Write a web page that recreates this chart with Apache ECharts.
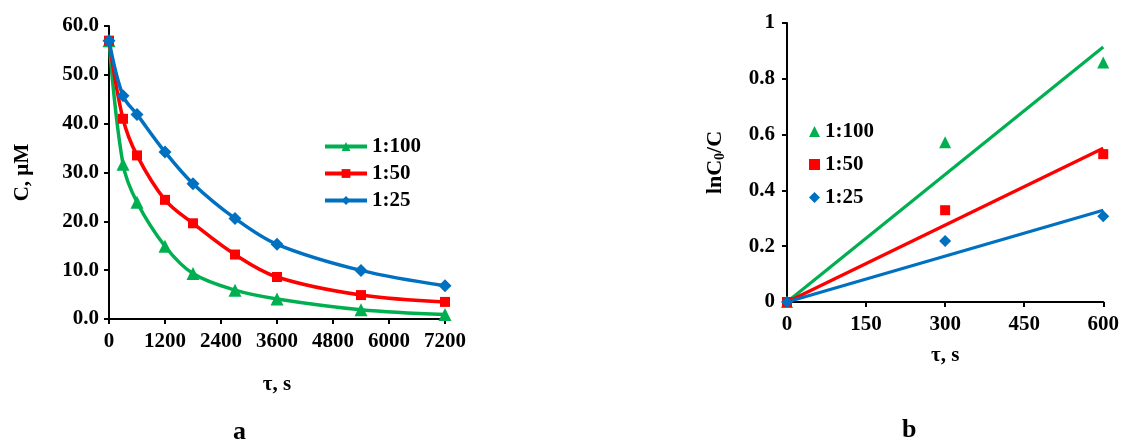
<!DOCTYPE html>
<html><head><meta charset="utf-8">
<script src="https://cdn.jsdelivr.net/npm/echarts@6/dist/echarts.min.js"></script>
<style>html,body{margin:0;padding:0;background:#fff}#c{width:1122px;height:443px}</style>
</head><body><div id="c"></div>
<script>
const timeA = [0, 300, 600, 1200, 1800, 2700, 3600, 5400, 7200];
const conc100 = [57.0, 31.7, 23.9, 14.9, 9.3, 5.9, 4.1, 1.9, 0.9];
const conc50 = [57.0, 41.0, 33.5, 24.4, 19.6, 13.2, 8.6, 4.9, 3.5];
const conc25 = [57.0, 45.7, 41.9, 34.2, 27.7, 20.6, 15.3, 9.95, 6.8];
const timeB = [0, 300, 600];
const ln100 = [0, 0.573, 0.858];
const ln50 = [0, 0.329, 0.530];
const ln25 = [0, 0.219, 0.307];
const fitTime = [0, 600];
const fit100 = [0, 0.914];
const fit50 = [0, 0.551];
const fit25 = [0, 0.329];
const names = ['1:100', '1:50', '1:25'];
const colors = ['#00B050', '#FF0000', '#0070C0'];
const symbols = ['triangle', 'rect', 'diamond'];

const FONT = 'Liberation Serif';
const FS = 21;
const pair = (xs, ys) => xs.map((x, i) => [x, ys[i]]);
const axisCommon = {
  axisLine: {lineStyle: {color: '#000', width: 2}},
  axisTick: {show: true, inside: false, length: 5, lineStyle: {color: '#000', width: 2}},
  splitLine: {show: false},
  axisLabel: {color: '#000', fontFamily: FONT, fontWeight: 'bold', fontSize: FS},
  nameTextStyle: {color: '#000', fontFamily: FONT, fontWeight: 'bold', fontSize: FS}
};
const chart = echarts.init(document.getElementById('c'));
const concSets = [conc100, conc50, conc25];
const lnSets = [ln100, ln50, ln25];
const fitSets = [fit100, fit50, fit25];
const series = [];
concSets.forEach((d, i) => series.push({
  type: 'line', name: names[i], xAxisIndex: 0, yAxisIndex: 0, data: pair(timeA, d),
  smooth: 0.35, symbol: symbols[i], symbolSize: i === 1 ? 10 : 13, showSymbol: true,
  lineStyle: {color: colors[i], width: 3.5}, itemStyle: {color: colors[i], opacity: 1}, z: 3 + i
}));
lnSets.forEach((d, i) => series.push({
  type: 'scatter', name: names[i] + ' ', xAxisIndex: 1, yAxisIndex: 1, data: pair(timeB, d),
  symbol: symbols[i], symbolSize: i === 1 ? 10 : 12, itemStyle: {color: colors[i], opacity: 1}, z: 4
}));
fitSets.forEach((d, i) => series.push({
  type: 'line', name: 'fit' + i, xAxisIndex: 1, yAxisIndex: 1, data: pair(fitTime, d),
  symbol: 'none', lineStyle: {color: colors[i], width: 3.2}, z: 3
}));
chart.setOption({
  animation: false,
  grid: [
    {left: 109, right: 677, top: 26, bottom: 124},
    {left: 787, right: 18, top: 23, bottom: 141}
  ],
  legend: [
    {data: names, left: 318, top: 131, orient: 'vertical', itemWidth: 42, itemHeight: 11, itemGap: 6,
     lineStyle: {width: 4},
     textStyle: {color: '#000', fontFamily: FONT, fontWeight: 'bold', fontSize: FS}},
    {data: names.map(n => n + ' '), left: 804, top: 116, orient: 'vertical', itemWidth: 11, itemHeight: 11, itemGap: 12,
     formatter: n => n.trim(),
     textStyle: {color: '#000', fontFamily: FONT, fontWeight: 'bold', fontSize: FS}}
  ],
  xAxis: [
    Object.assign({}, axisCommon, {type: 'value', gridIndex: 0, min: 0, max: 7200, interval: 1200,
      name: 'τ, s', nameLocation: 'middle', nameGap: 55,
      axisLabel: Object.assign({}, axisCommon.axisLabel, {margin: 12, formatter: v => String(v)})}),
    Object.assign({}, axisCommon, {type: 'value', gridIndex: 1, min: 0, max: 600, interval: 150,
      name: 'τ, s', nameLocation: 'middle', nameGap: 43,
      axisLabel: Object.assign({}, axisCommon.axisLabel, {margin: 12, formatter: v => String(v)})})
  ],
  yAxis: [
    Object.assign({}, axisCommon, {type: 'value', gridIndex: 0, min: 0, max: 60, interval: 10,
      name: 'C, µM', nameLocation: 'middle', nameGap: 76,
      axisLabel: Object.assign({}, axisCommon.axisLabel, {margin: 10, formatter: v => v.toFixed(1)})}),
    Object.assign({}, axisCommon, {type: 'value', gridIndex: 1, min: 0, max: 1, interval: 0.2,
      name: '{m|lnC}{s|0}{m|/C}', nameLocation: 'middle', nameGap: 60,
      nameTextStyle: Object.assign({}, axisCommon.nameTextStyle, {
        rich: {m: {fontFamily: FONT, fontWeight: 'bold', fontSize: 22, color: '#000'},
               s: {fontFamily: FONT, fontWeight: 'bold', fontSize: 14, color: '#000', verticalAlign: 'bottom', padding: [9, 0, 0, 0]}}}),
      axisLabel: Object.assign({}, axisCommon.axisLabel, {margin: 12, formatter: v => String(v)})})
  ],
  graphic: [
    {type: 'text', left: 233, top: 419, style: {text: 'a', fill: '#000', font: 'bold 26px "Liberation Serif"'}},
    {type: 'text', left: 902, top: 417, style: {text: 'b', fill: '#000', font: 'bold 26px "Liberation Serif"'}}
  ],
  series: series
});
</script></body></html>
